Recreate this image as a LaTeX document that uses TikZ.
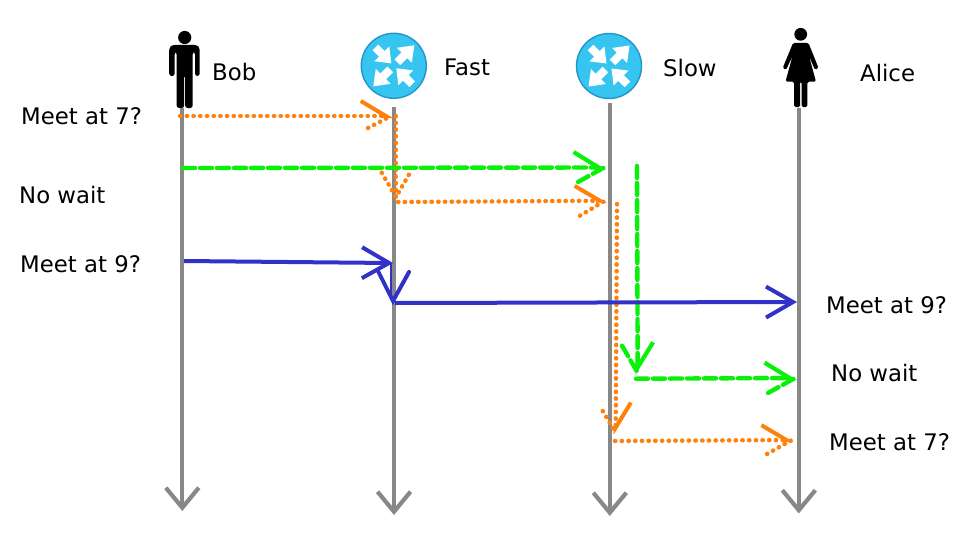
\documentclass[tikz,border=0pt]{standalone}
\usepackage{fontspec}
\setmainfont{DejaVu Sans}
\usetikzlibrary{arrows.meta, calc}
\definecolor{lifegray}{RGB}{136,136,136}
\definecolor{msgorange}{RGB}{255,128,10}
\definecolor{msggreen}{RGB}{10,240,10}
\definecolor{msgblue}{RGB}{50,50,200}
\definecolor{routerblue}{RGB}{54,197,240}
\definecolor{routerrim}{RGB}{35,150,200}
\tikzset{
  lifeline/.style={lifegray, line width=4.2pt, shorten >=-2pt, -{Straight Barb[length=20pt, width=33pt, line width=4.2pt]}},
  fastmsg/.style={msgblue, line width=4pt, shorten >=-2pt, -{Straight Barb[length=27pt, width=31pt, line width=4pt]}},
  waitwing/.style={msggreen, line width=4.4pt, dash pattern=on 12pt off 5pt, line cap=round},
  waitmsg/.style={waitwing, shorten >=-2pt, -{Straight Barb[left, length=25pt, width=31pt, line width=4.2pt]}},
  latewing/.style={msgorange, line width=4.4pt, dash pattern=on 0.4pt off 6.3pt, line cap=round},
  latemsg/.style={latewing, shorten >=-2pt, -{Straight Barb[left, length=25pt, width=30pt, line width=4pt]}},
  label/.style={font=\fontsize{22.8pt}{26pt}\selectfont, inner sep=0pt},
  router/.pic={
    \fill[routerblue, draw=routerrim, line width=1.4pt] (0,0) circle (32.5pt);
    \foreach \a in {45,225}
      \fill[white, rotate=\a] (5,-4) -- (15,-4) -- (15,-10.5) -- (29,0) -- (15,10.5) -- (15,4) -- (5,4) -- cycle;
    \foreach \a in {135,315}
      \fill[white, rotate=\a] (26,-4) -- (17,-4) -- (17,-10.5) -- (3.5,0) -- (17,10.5) -- (17,4) -- (26,4) -- cycle;
  },
}
\begin{document}
\begin{tikzpicture}[x=1pt, y=-1pt]
\useasboundingbox (0,0) rectangle (973,543);
% actors
\fill (184.7,37.5) circle (6.6);
\fill[rounded corners=2.5pt] (172,45) -- (197,45) -- (199.7,48) -- (199.7,76) -- (195,76) -- (195,52) -- (192.7,52) -- (192.7,108) -- (185.2,108) -- (185.2,75) -- (184.2,75) -- (184.2,108) -- (176.7,108) -- (176.7,52) -- (174.7,52) -- (174.7,76) -- (169.2,76) -- (169.2,48) -- cycle;
\fill (800.7,34.3) circle (6.4);
\fill[rounded corners=1.5pt] (793,43) -- (808.5,43) -- (818.5,68) -- (815,70) -- (809,56) -- (816,81.7) -- (807.3,81.7) -- (807.3,107) -- (801.5,107) -- (801.5,81.7) -- (800,81.7) -- (800,107) -- (794,107) -- (794,81.7) -- (785.5,81.7) -- (792.5,56) -- (786,70) -- (782.7,68) -- cycle;
\pic at (393.8,65.8) {router};
\pic at (609,66) {router};
\node[label, anchor=west] (bob) at (212,72) {Bob};
\node[label, anchor=west] (fast) at (444,67) {Fast};
\node[label, anchor=west] (slow) at (663,68) {Slow};
\node[label, anchor=west] (alice) at (860,73) {Alice};
% lifelines
\coordinate (bobtop) at (182.3,108);
\coordinate (bobend) at (182.3,509);
\coordinate (fasttop) at (394,107);
\coordinate (fastend) at (394,513);
\coordinate (slowtop) at (609.8,103);
\coordinate (slowend) at (609.8,514);
\coordinate (alicetop) at (798.8,108);
\coordinate (aliceend) at (798.8,511.5);
\draw[msgblue, line width=3pt] (391.8,263) -- (391.8,300);
\foreach \who in {bob,fast,slow,alice}
  \draw[lifeline] (\who top) -- (\who end);
% late message
\coordinate (m1a) at (180,116);
\coordinate (m1b) at (391,116);
\coordinate (m1c) at (396,116);
\coordinate (m1d) at (396,197);
\coordinate (m1e) at (398,202);
\coordinate (m1f) at (605,200.7);
\coordinate (m1g) at (617,204);
\coordinate (m1h) at (615.7,432.7);
\coordinate (m1i) at (615,441);
\coordinate (m1j) at (791.7,440);
\draw[latemsg] (m1a) -- (m1b);
\draw[latewing] (368,128) -- (m1b);
\draw[latewing] (m1c) -- (m1d);
\draw[latewing] (381.7,172.7) -- (m1d) -- (410,172.7);
\draw[latemsg] (m1e) -- (m1f);
\draw[latewing] (580,215.7) -- (m1f);
\draw[latemsg] (m1g) -- (m1h);
\draw[latewing] (602.7,411) -- (m1h);
\draw[latemsg] (m1i) -- (m1j);
\draw[latewing] (767,454) -- (m1j);
% wait message
\coordinate (m2a) at (183,168);
\coordinate (m2b) at (604,167.5);
\coordinate (m2c) at (637,166);
\coordinate (m2d) at (637.7,372.7);
\coordinate (m2e) at (636,378.7);
\coordinate (m2f) at (795,378);
\draw[waitmsg] (m2a) -- (m2b);
\draw[waitwing] (578,182) -- (m2b);
\draw[waitmsg] (m2c) -- (m2d);
\draw[waitwing] (622,345.7) -- (m2d);
\draw[waitmsg] (m2e) -- (m2f);
\draw[waitwing] (768,393) -- (m2f);
% fast message
\coordinate (m3a) at (184,261);
\coordinate (m3b) at (391,263);
\coordinate (m3d) at (393,301);
\coordinate (m3e) at (395,303);
\coordinate (m3f) at (795,302);
\draw[fastmsg] (m3a) -- (m3b);
\draw[fastmsg] (m3e) -- (m3f);
\draw[msgblue, line width=4pt, line cap=round] (378,271) -- (m3d) -- (409,272);
% questions
\node[label, anchor=west] (q1) at (21,116) {Meet at 7?};
\node[label, anchor=west] (q2) at (19,195) {No wait};
\node[label, anchor=west] (q3) at (20,264) {Meet at 9?};
\node[label, anchor=west] (a3) at (826,305) {Meet at 9?};
\node[label, anchor=west] (a2) at (831,373) {No wait};
\node[label, anchor=west] (a1) at (829,442) {Meet at 7?};
\end{tikzpicture}
\end{document}
